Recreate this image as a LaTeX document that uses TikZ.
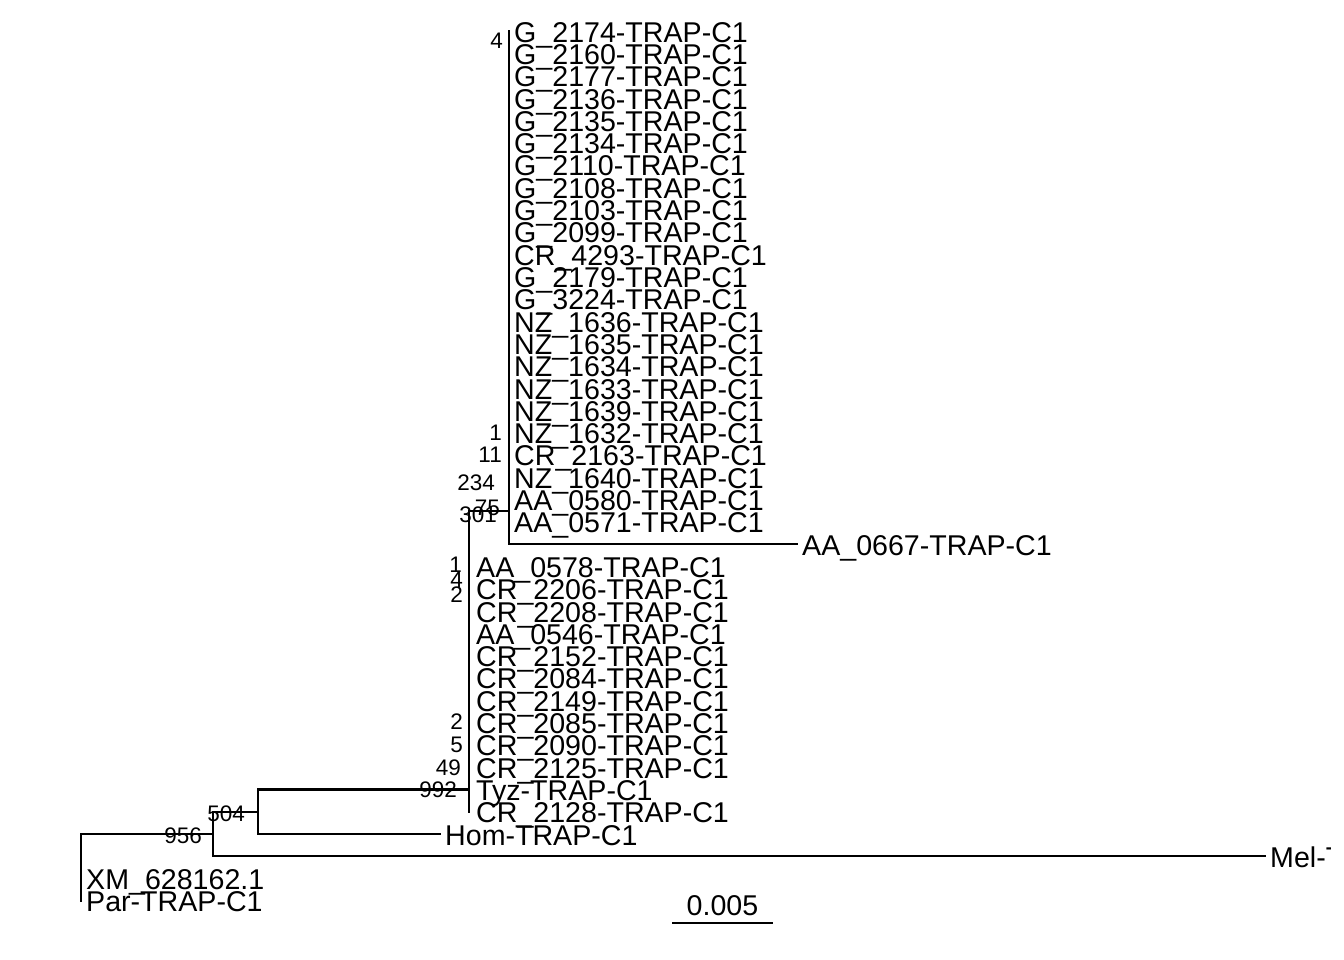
\documentclass[tikz,border=0pt]{standalone}
\usepackage{fontspec}
\setmainfont{Liberation Sans}
\usepackage{tikz}
\usetikzlibrary{calc,positioning}
\usepackage{xcolor}
\definecolor{treeblack}{RGB}{0,0,0}

\tikzset{
  branch/.style={treeblack,line width=2.2pt,line cap=rect},
  tiplabel/.style={anchor=base west,inner sep=0pt,xshift=5pt,yshift=-11pt,
    font=\fontsize{28.6}{30}\selectfont},
  bootlabel/.style={anchor=east,inner sep=0pt,font=\fontsize{22.5}{24}\selectfont},
  scalelabel/.style={anchor=base,inner sep=0pt,yshift=8pt,
    font=\fontsize{28.6}{30}\selectfont}
}

\begin{document}
\begin{tikzpicture}[x=1pt,y=-1pt]
\useasboundingbox (0,0) rectangle (1344,960);
% tips: row i sits at 31.2 + 22.3 i
\foreach \name [count=\i from 0] in {G\_2174-TRAP-C1,G\_2160-TRAP-C1,G\_2177-TRAP-C1,
  G\_2136-TRAP-C1,G\_2135-TRAP-C1,G\_2134-TRAP-C1,G\_2110-TRAP-C1,G\_2108-TRAP-C1,
  G\_2103-TRAP-C1,G\_2099-TRAP-C1,CR\_4293-TRAP-C1,G\_2179-TRAP-C1,G\_3224-TRAP-C1,
  NZ\_1636-TRAP-C1,NZ\_1635-TRAP-C1,NZ\_1634-TRAP-C1,NZ\_1633-TRAP-C1,NZ\_1639-TRAP-C1,
  NZ\_1632-TRAP-C1,CR\_2163-TRAP-C1,NZ\_1640-TRAP-C1,AA\_0580-TRAP-C1,AA\_0571-TRAP-C1}{
  \pgfmathsetmacro{\yy}{31.2+22.3*\i}
  \coordinate (t\i) at (509,\yy);
  \node[tiplabel] (lab\i) at (t\i) {\name};
}
\coordinate (t23) at (797,544.1);
\node[tiplabel] (lab23) at (t23) {AA\_0667-TRAP-C1};
\foreach \name [count=\i from 24] in {AA\_0578-TRAP-C1,CR\_2206-TRAP-C1,CR\_2208-TRAP-C1,
  AA\_0546-TRAP-C1,CR\_2152-TRAP-C1,CR\_2084-TRAP-C1,CR\_2149-TRAP-C1,CR\_2085-TRAP-C1,
  CR\_2090-TRAP-C1,CR\_2125-TRAP-C1,Tyz-TRAP-C1,CR\_2128-TRAP-C1}{
  \pgfmathsetmacro{\yy}{31.2+22.3*\i}
  \coordinate (t\i) at (469,\yy);
  \node[tiplabel,xshift=2pt] (lab\i) at (t\i) {\name};
}
\coordinate (t36) at (440,834);
\node[tiplabel] (lab36) at (t36) {Hom-TRAP-C1};
\coordinate (t37) at (1265,856.3);
\begin{scope}
  % the plot region ends before the last label does
  \clip (0,0) rectangle (1330,960);
  \node[tiplabel] (lab37) at (t37) {Mel-TRAP-C1};
\end{scope}
\coordinate (t38) at (81,878.6);
\node[tiplabel] (lab38) at (t38) {XM\_628162.1};
\coordinate (t39) at (81,900.9);
\node[tiplabel] (lab39) at (t39) {Par-TRAP-C1};

% inner nodes
\coordinate (c75) at (509,511);
\coordinate (c992) at (469,789.4);
\coordinate (c504) at (258,811.7);
\coordinate (c956) at (213,834);
\coordinate (croot) at (81,834);

% branches
\draw[branch] (t0) -- (c75 |- t23) -- (t23);
\draw[branch] (c75) -- (c75 -| c992) -- (c992 |- t35);
\draw[branch] (c992) -- (c992 -| c504) -- (c504 |- t36) -- (t36);
\draw[branch] (c504) -- (c504 -| c956) -- (c956 |- t37) -- (t37);
\draw[branch] (c956) -- (croot) -- (croot |- t39);

% bootstrap values
\node[bootlabel] (b4) at (503,41) {4};
\node[bootlabel] (b1a) at (502,433) {1};
\node[bootlabel] (b11) at (502,455) {11};
\node[bootlabel] (b234) at (495,483) {234};
\node[bootlabel] (b301) at (497,515) {301};
\node[bootlabel] (b75) at (500,508) {75};
\node[bootlabel] (b1b) at (462,565) {1};
\node[bootlabel] (b4b) at (463,580) {4};
\node[bootlabel] (b2a) at (463,595) {2};
\node[bootlabel] (b2b) at (463,722) {2};
\node[bootlabel] (b5) at (463,745) {5};
\node[bootlabel] (b49) at (461,768) {49};
\node[bootlabel] (b992) at (457,790) {992};
\node[bootlabel] (b504) at (245,814) {504};
\node[bootlabel] (b956) at (202,836) {956};

% scale bar
\coordinate (sbl) at (672,923);
\coordinate (sbr) at (773,923);
\draw[branch,line cap=butt] (sbl) -- node[scalelabel] (sbtext) {0.005} (sbr);
\end{tikzpicture}
\end{document}
